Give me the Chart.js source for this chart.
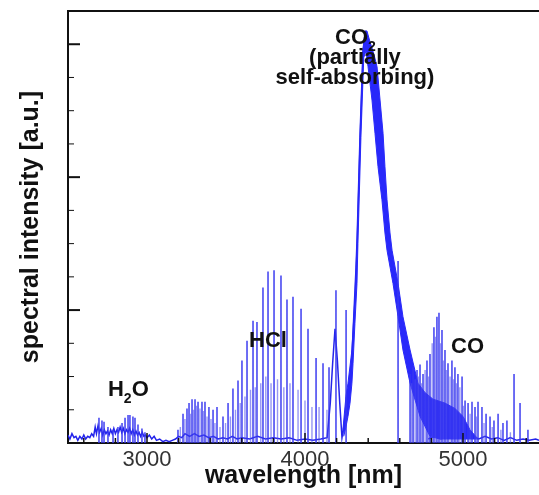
<!DOCTYPE html>
<html>
<head>
<meta charset="utf-8">
<script src="https://cdn.jsdelivr.net/npm/chart.js@4.4.1/dist/chart.umd.min.js"></script>
<style>
  html, body { margin: 0; padding: 0; background: #fff; }
  #wrap { width: 539px; height: 495px; position: relative; }
</style>
</head>
<body>
<div id="wrap"><canvas id="myChart"></canvas></div>
<script>
// continuum / background of the spectrum (wavelength nm, intensity a.u.)
const contWl = [2500,2512,2525,2538,2550,2562,2575,2588,2600,2612,2625,2638,2650,2662,2672,2680,2690,2700,2710,2720,2730,2740,2750,2760,2770,2780,2790,2800,2810,2820,2830,2840,2850,2860,2870,2880,2890,2900,2910,2920,2930,2940,2950,2960,2970,2980,2990,3000,3015,3030,3045,3060,3080,3100,3120,3140,3160,3180,3200,3220,3240,3270,3300,3330,3360,3390,3420,3450,3480,3510,3540,3570,3600,3650,3700,3750,3800,3850,3900,3950,4000,4050,4100,4140,4160,4175,4190,4205,4220,4234,4245,4255,4272,4290,4304,4323,4330,4348,4367,4382];
const contVal = [0.06,0.03,0.07,0.04,0.05,0.02,0.05,0.03,0.06,0.03,0.05,0.04,0.07,0.05,0.12,0.07,0.13,0.08,0.11,0.06,0.1,0.07,0.09,0.06,0.1,0.07,0.11,0.07,0.1,0.08,0.12,0.08,0.11,0.07,0.1,0.08,0.11,0.07,0.1,0.06,0.09,0.06,0.08,0.05,0.08,0.05,0.06,0.04,0.06,0.03,0.05,0.02,0.03,0.01,0.02,0.01,0.02,0.03,0.05,0.04,0.07,0.05,0.07,0.05,0.06,0.04,0.05,0.03,0.04,0.03,0.05,0.03,0.04,0.03,0.05,0.03,0.04,0.03,0.04,0.02,0.03,0.02,0.03,0.04,0.3,0.6,0.86,0.62,0.3,0.04,0.12,0.2,0.3,0.5,0.83,1.32,1.55,2.3,2.95,3.1];

// tail after the CO2 band
const tailWl = [4780,4820,4860,4900,4940,4980,5020,5060,5100,5140,5180,5220,5260,5300,5340,5380,5420,5460,5481];
const tailVal = [0.03,0.05,0.03,0.06,0.04,0.06,0.04,0.05,0.03,0.05,0.03,0.04,0.02,0.04,0.02,0.03,0.02,0.03,0.02];

// dense CO2 band outline (traced around)
const bandWl = [4240,4259,4272,4297,4316,4329,4348,4367,4380,4392,4411,4437,4456,4475,4494,4506,4519,4538,4551,4589,4620,4665,4715,4759,4810,4886,4949,5000,5044,5095,4950,4854,4791,4728,4665,4620,4589,4557,4519,4506,4487,4462,4443,4424,4399,4386,4372,4354,4335,4329,4316,4304,4297,4285,4272,4259,4245];
const bandVal = [0.1,0.35,0.45,0.7,1.1,1.5,2.3,2.95,3.1,3.1,3.02,2.92,2.83,2.58,2.33,2.08,1.83,1.58,1.45,1.2,0.95,0.7,0.45,0.38,0.33,0.3,0.26,0.2,0.1,0.03,0.03,0.03,0.05,0.2,0.45,0.7,0.95,1.2,1.45,1.58,1.83,2.08,2.33,2.58,2.83,2.95,2.9,2.3,1.5,1.2,0.9,0.6,0.45,0.3,0.2,0.12,0.05];

// strong emission lines (H2O, HCl, CO ...)
const lineWl = [2696,2715,2728,2753,2785,2816,2842,2861,2880,2892,2911,2924,2943,2968,2987,
  3196,3228,3253,3266,3285,3304,3323,3348,3367,3392,3418,3443,3481,
  3513,3544,3576,3601,3633,3671,3696,3734,3766,3804,3848,3886,3924,3975,4019,4070,4114,4152,4196,4260,
  4589,
  4665,4684,4709,4728,4747,4772,4791,4816,4835,4848,4867,4886,4905,4930,4949,4968,4994,5013,5032,5057,5076,5095,5120,5146,5171,5196,5222,5253,5278,5323,5361,5411];
const lineTop = [0.19,0.17,0.16,0.12,0.1,0.12,0.15,0.19,0.21,0.21,0.2,0.19,0.14,0.11,0.08,
  0.1,0.22,0.26,0.3,0.33,0.33,0.31,0.31,0.31,0.27,0.25,0.27,0.2,
  0.3,0.41,0.47,0.62,0.77,0.92,0.91,1.17,1.29,1.3,1.26,1.08,1.1,1.01,0.86,0.64,0.6,0.57,1.15,1.0,
  1.37,
  0.52,0.57,0.55,0.59,0.52,0.62,0.67,0.87,0.95,0.98,0.85,0.7,0.6,0.62,0.57,0.52,0.5,0.32,0.3,0.31,0.27,0.31,0.27,0.22,0.2,0.17,0.22,0.15,0.17,0.52,0.3,0.1];

// weaker lines in between
const weakWl = [3211,3240,3276,3295,3314,3335,3357,3380,3405,3430,3462,3497,3528,3560,3590,3620,3655,3685,3720,3752,3785,3826,3866,3905,3956,4000,4044,4089,4139,
  4675,4697,4718,4738,4760,4782,4805,4825,4858,4876,4895,4918,4940,4958,4980,5003,5045,5085,5133,5185,5240,5300];
const weakTop = [0.12,0.18,0.22,0.25,0.28,0.26,0.24,0.2,0.18,0.15,0.12,0.15,0.2,0.25,0.3,0.35,0.4,0.42,0.45,0.5,0.45,0.48,0.42,0.45,0.4,0.32,0.27,0.27,0.25,
  0.45,0.48,0.5,0.45,0.55,0.5,0.75,0.8,0.75,0.62,0.55,0.5,0.48,0.45,0.42,0.28,0.22,0.2,0.15,0.12,0.1,0.08];

// axis ticks
const xTicks = [2600,2800,3000,3200,3400,3600,3800,4000,4200,4400,4600,4800,5000,5200,5400];
const xLabels = [3000, 4000, 5000];
const yTicks = [0.25,0.5,0.75,1,1.25,1.5,1.75,2,2.25,2.5,2.75,3];

const toPts = (xs, ys) => xs.map((x, i) => ({ x: x, y: ys[i] }));
// each line as its own vertical stroke, broken by a null point
const spikes = (xs, ys) => {
  const pts = [];
  xs.forEach((x, i) => { pts.push({ x: x, y: 0 }, { x: x, y: ys[i] }, { x: x, y: null }); });
  return pts;
};

const FONT = '"Liberation Sans", Arial, Helvetica, sans-serif';
const notes = [
  { wl: 2753, val: 0.35, parts: [['H', 0], ['2', 1], ['O', 0]] },
  { wl: 3646, val: 0.72, parts: [['HCl', 0]] },
  { wl: 4924, val: 0.68, parts: [['CO', 0]] },
  { wl: 4190, val: 3.0, parts: [['CO', 0], ['2', 1]] },
  { wl: 4316, val: 2.85, center: true, parts: [['(partially', 0]] },
  { wl: 4316, val: 2.7, center: true, parts: [['self-absorbing)', 0]] }
];

const frame = {
  id: 'frame',
  afterDatasetsDraw(chart) {
    const { ctx, chartArea: a, scales: { x, y } } = chart;
    ctx.save();
    ctx.strokeStyle = '#111';
    ctx.lineWidth = 2;
    ctx.beginPath();
    ctx.moveTo(a.left, a.top);
    ctx.lineTo(a.right, a.top);
    ctx.stroke();
    // inward ticks
    ctx.lineWidth = 1.5;
    x.ticks.forEach(t => {
      const px = x.getPixelForValue(t.value);
      const len = xLabels.includes(t.value) ? 10 : 5;
      ctx.beginPath();
      ctx.moveTo(px, a.bottom);
      ctx.lineTo(px, a.bottom - len);
      ctx.stroke();
    });
    y.ticks.forEach(t => {
      const py = y.getPixelForValue(t.value);
      const major = Number.isInteger(t.value);
      ctx.lineWidth = major ? 2 : 1;
      ctx.beginPath();
      ctx.moveTo(a.left, py);
      ctx.lineTo(a.left + (major ? 12 : 6), py);
      ctx.stroke();
    });
    // labels on the bands
    ctx.fillStyle = '#111';
    ctx.textBaseline = 'alphabetic';
    notes.forEach(n => {
      let px = x.getPixelForValue(n.wl);
      const py = y.getPixelForValue(n.val);
      if (n.center) {
        ctx.font = 'bold 22px ' + FONT;
        ctx.textAlign = 'center';
        ctx.fillText(n.parts[0][0], px, py);
        return;
      }
      ctx.textAlign = 'left';
      n.parts.forEach(([txt, sub]) => {
        ctx.font = sub ? 'bold 14px ' + FONT : 'bold 22px ' + FONT;
        ctx.fillText(txt, px, sub ? py + 7 : py);
        px += ctx.measureText(txt).width;
      });
    });
    ctx.restore();
  }
};

const ctx = document.getElementById('myChart').getContext('2d');
new Chart(ctx, {
  type: 'line',
  data: {
    datasets: [
      {
        data: spikes(weakWl, weakTop),
        borderColor: 'rgba(80, 80, 235, 0.6)',
        borderWidth: 1.4,
        spanGaps: false
      },
      {
        data: spikes(lineWl, lineTop),
        borderColor: 'rgba(55, 55, 240, 0.85)',
        borderWidth: 1.7,
        spanGaps: false
      },
      {
        data: toPts(bandWl, bandVal),
        borderColor: 'rgb(40, 40, 250)',
        backgroundColor: 'rgb(40, 40, 250)',
        borderWidth: 1,
        fill: 'shape'
      },
      {
        data: toPts(contWl, contVal),
        borderColor: 'rgb(35, 35, 235)',
        borderWidth: 1.5
      },
      {
        data: toPts(tailWl, tailVal),
        borderColor: 'rgb(35, 35, 235)',
        borderWidth: 1.5
      }
    ]
  },
  options: {
    responsive: true,
    maintainAspectRatio: false,
    animation: false,
    layout: { padding: { top: 11, right: 0, left: 0, bottom: 4 } },
    elements: { point: { radius: 0 }, line: { tension: 0 } },
    plugins: { legend: { display: false }, tooltip: { enabled: false } },
    scales: {
      x: {
        type: 'linear',
        min: 2500,
        max: 5481,
        grid: { display: false, drawTicks: false },
        border: { display: true, color: '#111', width: 2 },
        afterBuildTicks: s => { s.ticks = xTicks.map(v => ({ value: v })); },
        ticks: {
          autoSkip: false,
          maxRotation: 0,
          padding: 4,
          color: '#333',
          font: { family: FONT, size: 22 },
          callback: v => (xLabels.includes(v) ? String(v) : '')
        },
        title: {
          display: true,
          text: 'wavelength [nm]',
          color: '#111',
          font: { family: FONT, size: 25, weight: 'bold' },
          padding: { top: 0, bottom: 0 }
        },
        afterFit: s => { s.height = 48; }
      },
      y: {
        min: 0,
        max: 3.25,
        grid: { display: false, drawTicks: false },
        border: { display: true, color: '#111', width: 2 },
        afterBuildTicks: s => { s.ticks = yTicks.map(v => ({ value: v })); },
        ticks: { display: false },
        title: {
          display: true,
          text: 'spectral intensity [a.u.]',
          color: '#111',
          font: { family: FONT, size: 25, weight: 'bold' },
          padding: { top: 16, bottom: 0 }
        },
        afterFit: s => { s.width = 68; }
      }
    }
  },
  plugins: [frame]
});
</script>
</body>
</html>
